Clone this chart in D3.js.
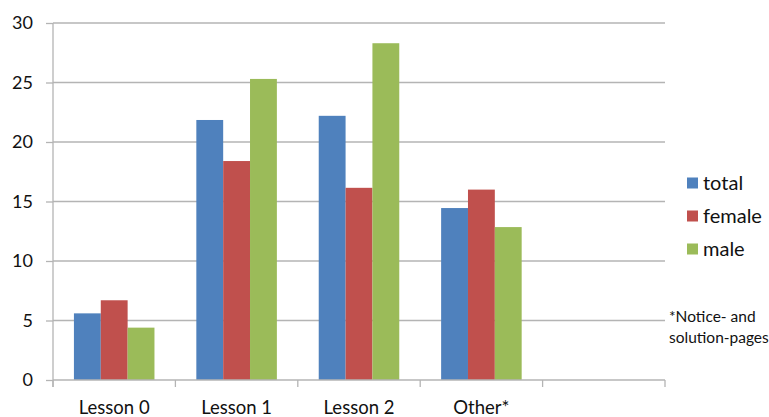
<!DOCTYPE html>
<html>
<head>
<meta charset="utf-8">
<script src="https://cdn.jsdelivr.net/npm/d3@7"></script>
<style>
  html, body { margin: 0; padding: 0; background: #fff; }
  svg { display: block; font-family: Lato, "Open Sans", sans-serif; }
</style>
</head>
<body>
<svg id="chart" width="769" height="417"></svg>
<script>
// Categories (the fifth slot is an empty category on the axis)
const categories = ["Lesson 0", "Lesson 1", "Lesson 2", "Other*", ""];
const seriesNames = ["total", "female", "male"];
const totalValues  = [5.6, 21.85, 22.2, 14.45];
const femaleValues = [6.7, 18.4, 16.15, 16.0];
const maleValues   = [4.4, 25.3, 28.3, 12.85];
const yTicks = [0, 5, 10, 15, 20, 25, 30];
const colors = ["#4F81BD", "#C0504D", "#9BBB59"];
const footnote = ["*Notice- and", "solution-pages"];

const series = [totalValues, femaleValues, maleValues];

const svg = d3.select("#chart");
const plot = { left: 53, right: 665, top: 23, bottom: 380 };

const x0 = d3.scaleBand()
  .domain(categories.map((c, i) => i))
  .range([plot.left, plot.right])
  .paddingInner(0.342)
  .paddingOuter(0.171);

const x1 = d3.scaleBand()
  .domain(seriesNames)
  .range([0, x0.bandwidth()]);

const y = d3.scaleLinear().domain([0, 30]).range([plot.bottom, plot.top]);

const gridColor = "#b4b4b4";
const textColor = "#111";

// horizontal gridlines
svg.append("g")
  .selectAll("line")
  .data(yTicks.filter(t => t > 0))
  .join("line")
  .attr("x1", plot.left).attr("x2", plot.right)
  .attr("y1", d => y(d)).attr("y2", d => y(d))
  .attr("stroke", gridColor).attr("stroke-width", 1.3);

// y axis
const yAxis = svg.append("g")
  .attr("transform", `translate(${plot.left},0)`)
  .call(d3.axisLeft(y).tickValues(yTicks).tickSize(7).tickPadding(13).tickFormat(d3.format("d")));
yAxis.select(".domain").attr("stroke", gridColor).attr("stroke-width", 1.3)
  .attr("d", `M0,${plot.top}V${plot.bottom + 7}`);
yAxis.selectAll(".tick line").attr("stroke", gridColor).attr("stroke-width", 1.3);
yAxis.selectAll(".tick text").attr("font-size", 18).attr("fill", textColor)
  .attr("font-family", "Lato, sans-serif");

// bars
const groups = svg.append("g")
  .selectAll("g")
  .data(categories.slice(0, totalValues.length))
  .join("g")
  .attr("transform", (d, i) => `translate(${x0(i)},0)`);

groups.selectAll("rect")
  .data((d, i) => seriesNames.map((s, k) => ({ s, k, v: series[k][i] })))
  .join("rect")
  .attr("x", d => x1(d.s))
  .attr("width", x1.bandwidth())
  .attr("y", d => y(d.v))
  .attr("height", d => y(0) - y(d.v))
  .attr("fill", d => colors[d.k]);

// x axis
const step = x0.step();
const xAxis = svg.append("g");
xAxis.append("line")
  .attr("x1", plot.left).attr("x2", plot.right)
  .attr("y1", plot.bottom).attr("y2", plot.bottom)
  .attr("stroke", gridColor).attr("stroke-width", 1.3);
xAxis.selectAll(".xtick")
  .data(d3.range(categories.length + 1))
  .join("line")
  .attr("class", "xtick")
  .attr("x1", i => plot.left + i * step).attr("x2", i => plot.left + i * step)
  .attr("y1", plot.bottom).attr("y2", plot.bottom + 7)
  .attr("stroke", gridColor).attr("stroke-width", 1.3);
xAxis.selectAll("text")
  .data(categories)
  .join("text")
  .attr("x", (d, i) => x0(i) + x0.bandwidth() / 2)
  .attr("y", 414)
  .attr("text-anchor", "middle")
  .attr("font-size", 18.5)
  .attr("fill", textColor)
  .text(d => d);

// legend
const legend = svg.append("g").attr("transform", "translate(687,0)");
const items = legend.selectAll("g")
  .data(seriesNames)
  .join("g")
  .attr("transform", (d, i) => `translate(0,${183 + i * 33})`);
items.append("rect")
  .attr("x", 0).attr("y", -5.5).attr("width", 11).attr("height", 11)
  .attr("fill", (d, i) => colors[i]);
items.append("text")
  .attr("x", 16).attr("y", 7)
  .attr("font-size", 20).attr("fill", textColor)
  .text(d => d);

// footnote
svg.append("g")
  .selectAll("text")
  .data(footnote)
  .join("text")
  .attr("x", 669)
  .attr("y", (d, i) => 322 + i * 21)
  .attr("font-size", 15.5)
  .attr("fill", textColor)
  .text(d => d);
</script>
</body>
</html>
